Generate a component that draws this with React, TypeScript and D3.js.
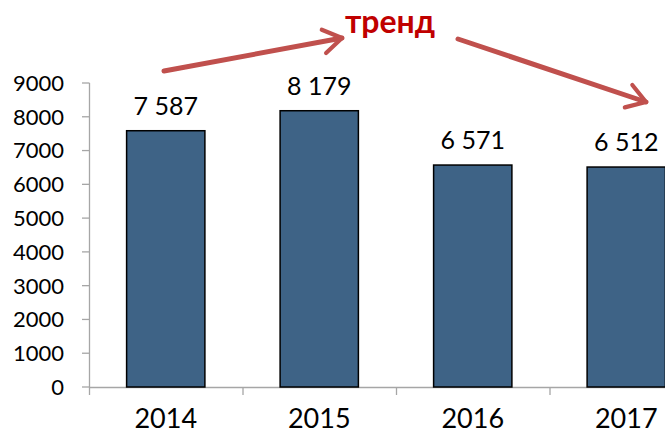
import * as d3 from 'd3'
import { useMemo } from 'react'

const years = ['2014', '2015', '2016', '2017']
const values = [7587, 8179, 6571, 6512]
const yTicks = [0, 1000, 2000, 3000, 4000, 5000, 6000, 7000, 8000, 9000]
const trendLabel = 'тренд'

const W = 665
const H = 435
const FONT = 'Lato, "Open Sans", sans-serif'

const fmt = (v: number) => d3.format(',')(v).replace(/,/g, ' ')

const App = () => {
  const x = useMemo(
    () => d3.scaleBand().domain(years).range([89, 89 + 4 * 153.5]).paddingInner(0.49).paddingOuter(0.245),
    []
  )
  const y = useMemo(() => d3.scaleLinear().domain([0, 9000]).range([387, 83]), [])

  const arrowColor = '#c0504d'

  return (
    <svg width={W} height={H} style={{ position: 'absolute', left: 0, top: 0, background: '#fff' }}>
      <defs>
        <marker id="head" viewBox="0 0 12 12" refX="10" refY="6" markerWidth="6.3" markerHeight="6.3" orient="auto" markerUnits="strokeWidth">
          <path d="M3,1.5 L10,6 L3,10.5" fill="none" stroke={arrowColor} strokeWidth="1.6" strokeLinecap="round" strokeLinejoin="round" />
        </marker>
      </defs>

      {/* y axis */}
      <line x1={89.5} x2={89.5} y1={y(9000)} y2={y(0)} stroke="#a6a6a6" strokeWidth={1.3} />
      {yTicks.map((t) => (
        <g key={t} transform={`translate(0, ${y(t)})`}>
          <line x1={82} x2={89.5} stroke="#a6a6a6" strokeWidth={1.3} />
          <text x={64} dy="0.36em" textAnchor="end" fontSize={22} fontFamily={FONT} fill="#000">
            {t}
          </text>
        </g>
      ))}

      {/* x axis */}
      <line x1={89} x2={W} y1={y(0) + 0.5} y2={y(0) + 0.5} stroke="#a6a6a6" strokeWidth={1.3} />
      {d3.range(0, 5).map((i) => {
        const xx = 89.5 + i * x.step()
        return <line key={i} x1={xx} x2={xx} y1={y(0)} y2={y(0) + 8} stroke="#a6a6a6" strokeWidth={1.3} />
      })}

      {/* bars */}
      {years.map((yr, i) => (
        <g key={yr}>
          <rect
            x={x(yr)}
            y={y(values[i])}
            width={x.bandwidth()}
            height={y(0) - y(values[i])}
            fill="#3e6386"
            stroke="#000"
            strokeWidth={1.5}
          />
          <text
            x={(x(yr) ?? 0) + x.bandwidth() / 2}
            y={y(values[i]) - 16}
            textAnchor="middle"
            fontSize={25}
            fontFamily={FONT}
            fill="#000"
          >
            {fmt(values[i])}
          </text>
          <text
            x={(x(yr) ?? 0) + x.bandwidth() / 2}
            y={428}
            textAnchor="middle"
            fontSize={27}
            fontFamily={FONT}
            fill="#000"
          >
            {yr}
          </text>
        </g>
      ))}

      {/* trend annotation */}
      <text x={390} y={33} textAnchor="middle" fontSize={32} fontWeight="bold" fontFamily={FONT} fill="#c00000">
        {trendLabel}
      </text>
      <line x1={164} y1={71} x2={342} y2={38} stroke={arrowColor} strokeWidth={5} strokeLinecap="round" markerEnd="url(#head)" />
      <line x1={458} y1={39} x2={646} y2={102} stroke={arrowColor} strokeWidth={5} strokeLinecap="round" markerEnd="url(#head)" />
    </svg>
  )
}

export default App
